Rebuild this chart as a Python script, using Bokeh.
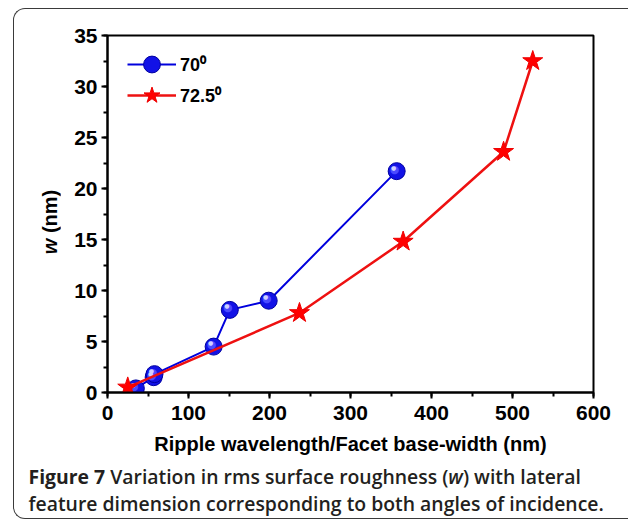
from bokeh.plotting import figure
from bokeh.layouts import column, row
from bokeh.models import Range1d, SingleIntervalTicker, Legend, LegendItem, Div
from bokeh.core.properties import value
from bokeh.embed import file_html
from bokeh.resources import INLINE

# ---- data ----
blue_x = [35, 57, 58, 131, 151, 199, 357]
blue_y = [0.4, 1.5, 1.8, 4.5, 8.1, 9.0, 21.7]
red_x = [25, 237, 365, 489, 525]
red_y = [0.5, 7.8, 14.8, 23.6, 32.5]
series_names = ["70\u2070", "72.5\u2070"]
x_title = "Ripple wavelength/Facet base-width (nm)"
y_title_var = "w"
y_title_unit = "(nm)"
caption_bold = "Figure 7"
caption_line1 = "Variation in rms surface roughness (w) with lateral"
caption_line2 = "feature dimension corresponding to both angles of incidence."

AX_FONT = "'Liberation Sans', Arial, sans-serif"

p = figure(width=568, height=450, output_backend="svg", toolbar_location=None,
           x_range=Range1d(0, 600), y_range=Range1d(0, 35),
           min_border_left=47, min_border_right=35,
           min_border_top=26, min_border_bottom=67, margin=0)
p.background_fill_color = "white"
p.border_fill_color = "white"
p.outline_line_color = "black"
p.outline_line_width = 2
p.outline_line_alpha = 1
p.grid.visible = False

p.xaxis.ticker = SingleIntervalTicker(interval=100, num_minor_ticks=2)
p.yaxis.ticker = SingleIntervalTicker(interval=5, num_minor_ticks=2)
for ax in (p.xaxis[0], p.yaxis[0]):
    ax.axis_line_width = 2
    ax.axis_line_color = "black"
    ax.major_tick_in = 0
    ax.major_tick_out = 6
    ax.minor_tick_in = 0
    ax.minor_tick_out = 4
    ax.major_tick_line_width = 2
    ax.minor_tick_line_width = 2
    ax.major_tick_line_color = "black"
    ax.minor_tick_line_color = "black"
    ax.major_label_text_font = AX_FONT
    ax.major_label_text_font_style = "bold"
    ax.major_label_text_font_size = "21px"
    ax.major_label_text_color = "black"
p.xaxis.major_label_standoff = 7
p.yaxis.major_label_standoff = 4
p.xaxis.axis_label = x_title
p.xaxis.axis_label_text_font = AX_FONT
p.xaxis.axis_label_text_font_style = "bold"
p.xaxis.axis_label_text_font_size = "20px"
p.xaxis.axis_label_text_color = "black"
p.xaxis.axis_label_standoff = 10

# ---- series ----
bl = p.line(blue_x, blue_y, line_color="#0000dd", line_width=2)
bs = p.scatter(blue_x, blue_y, marker="circle", size=17,
               fill_color="#1212e6", line_color="#0000a0", line_width=1)
p.text(blue_x, blue_y, text=value("\u25cf"), x_offset=-2, y_offset=-2,
       text_font=value("DejaVu Sans"), text_font_size="11px",
       text_color="#4a4aff", text_align="center", text_baseline="middle")
p.text(blue_x, blue_y, text=value("\u25cf"), x_offset=-3, y_offset=-4,
       text_font=value("DejaVu Sans"), text_font_size="6px",
       text_color="#d0d0ff", text_align="center", text_baseline="middle")

rl = p.line(red_x, red_y, line_color="#ee1111", line_width=2.5)
rs = p.scatter(red_x, red_y, marker="star", size=21,
               fill_color="#ff0000", line_color="#ee0000", line_width=1)

def make_legend(item, loc):
    return Legend(items=[item], location=loc, margin=0, padding=0,
                  glyph_width=49, glyph_height=42, label_height=20,
                  label_standoff=4, label_text_font=AX_FONT,
                  label_text_font_style="bold", label_text_font_size="18px",
                  label_text_color="black", border_line_alpha=0,
                  background_fill_alpha=0)

p.add_layout(make_legend(LegendItem(label=series_names[0], renderers=[bl, bs]), (20, 307)))
p.add_layout(make_legend(LegendItem(label=series_names[1], renderers=[rl, rs]), (20, 276)))

# ---- y title (italic w + unit) ----
ytitle_html = (
    '<div style="position:relative;width:46px;height:450px;">'
    '<div style="position:absolute;left:35.5px;top:212.5px;'
    'transform:translate(-50%,-50%) rotate(-90deg);white-space:nowrap;'
    "font-family:'Liberation Sans',Arial,sans-serif;font-weight:bold;"
    'font-size:20px;line-height:1;color:#000;">'
    f'<i>{y_title_var}</i> {y_title_unit}</div></div>'
)
ydiv = Div(text=ytitle_html, width=46, height=450, margin=0)

# ---- caption ----
line1_html = caption_line1.replace("(w)", "(<i>w</i>)")
cap_html = (
    '<div style="padding:5px 0 0 14.5px;font-family:\'Open Sans\',sans-serif;'
    'font-size:19.4px;line-height:26.5px;color:#231f20;white-space:nowrap;'
    'font-weight:600;">'
    f'<b style="font-weight:700;">{caption_bold}</b> {line1_html}<br>'
    f'{caption_line2}</div>'
)
capdiv = Div(text=cap_html, width=614, height=59, margin=0)

layout = column(row(ydiv, p, margin=0, spacing=0), capdiv,
                margin=(8, 0, 0, 13), spacing=0,
                styles={"border": "1.5px solid #3a3a3a",
                        "border-right": "none",
                        "border-radius": "12px 0 0 12px"})

open("out.html", "w").write(file_html(layout, INLINE))
